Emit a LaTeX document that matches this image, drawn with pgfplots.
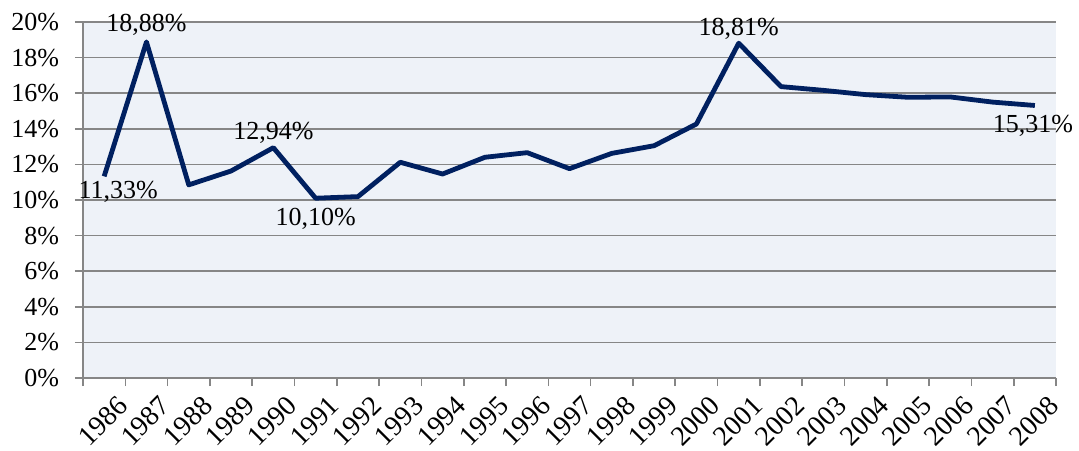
\documentclass[border=0pt]{standalone}
\usepackage{pgfplots}
\pgfplotsset{compat=1.18}
\usepackage{fontspec}
\setmainfont{Liberation Serif}
\definecolor{navy}{RGB}{0,32,96}
\definecolor{bgc}{RGB}{238,242,248}
\definecolor{gridc}{RGB}{134,134,134}
\begin{document}
\begin{tikzpicture}
\begin{axis}[
  at={(0,0)}, anchor=south west,
  scale only axis,
  width=486.5pt, height=178pt,
  xmin=-0.5, xmax=22.5, ymin=0, ymax=20,
  axis background/.style={fill=bgc},
  axis x line*=bottom, axis y line*=left,
  axis line style={gridc, line width=0.8pt},
  xtick={0,...,22},
  xticklabels={1986,1987,1988,1989,1990,1991,1992,1993,1994,1995,1996,1997,1998,1999,2000,2001,2002,2003,2004,2005,2006,2007,2008},
  major x tick style={draw=none},
  minor xtick={-0.5,0.5,...,22.5},
  minor x tick style={gridc, line width=0.8pt},
  minor tick length=4pt,
  ytick={0,2,...,20},
  yticklabels={0\%,2\%,4\%,6\%,8\%,10\%,12\%,14\%,16\%,18\%,20\%},
  major y tick style={gridc, line width=0.8pt},
  major tick length=4pt,
  tick align=outside,
  ymajorgrids,
  grid style={gridc, line width=0.8pt},
  xticklabel style={font=\fontsize{14}{16}\selectfont, rotate=45, anchor=north east, inner sep=0pt, xshift=1.5pt, yshift=-7pt},
  yticklabel style={font=\fontsize{13}{15}\selectfont, xshift=-4.5pt},
  clip=false,
]
\addplot[navy, line width=2.4pt, line join=round] table {
x y
0 11.33
1 18.88
2 10.85
3 11.63
4 12.94
5 10.10
6 10.19
7 12.12
8 11.46
9 12.40
10 12.66
11 11.76
12 12.62
13 13.05
14 14.27
15 18.81
16 16.37
17 16.16
18 15.92
19 15.77
20 15.79
21 15.50
22 15.31
};
\node[font=\fontsize{13}{15}\selectfont, anchor=base, inner sep=0pt, yshift=5pt] at (axis cs:1,18.88) {18,88\%};
\node[font=\fontsize{13}{15}\selectfont, anchor=base, inner sep=0pt, yshift=4pt] at (axis cs:4,12.94) {12,94\%};
\node[font=\fontsize{13}{15}\selectfont, anchor=base, inner sep=0pt, yshift=4pt] at (axis cs:15,18.81) {18,81\%};
\node[font=\fontsize{13}{15}\selectfont, anchor=base, inner sep=0pt, xshift=7pt, yshift=-11pt] at (axis cs:0,11.33) {11,33\%};
\node[font=\fontsize{13}{15}\selectfont, anchor=base, inner sep=0pt, yshift=-13.5pt] at (axis cs:5,10.10) {10,10\%};
\node[font=\fontsize{13}{15}\selectfont, anchor=base, inner sep=0pt, xshift=-1pt, yshift=-13.5pt] at (axis cs:22,15.31) {15,31\%};
\end{axis}
\pgfresetboundingbox
\path[use as bounding box] (-41.5pt,-36pt) rectangle (498pt,189pt);
\end{tikzpicture}
\end{document}
